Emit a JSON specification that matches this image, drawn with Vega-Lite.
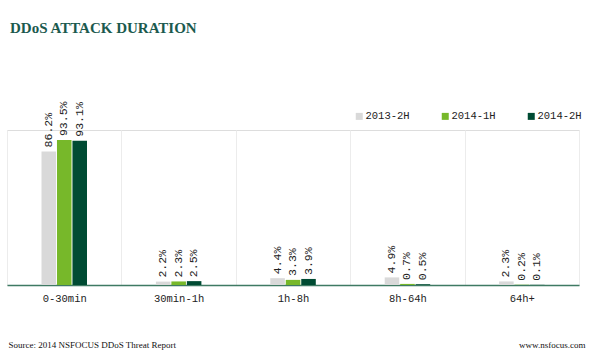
{
  "$schema": "https://vega.github.io/schema/vega-lite/v6.json",
  "autosize": {"type": "none"},
  "padding": {"left": 7, "top": 130, "right": 21, "bottom": 69},
  "width": 572,
  "height": 155,
  "background": "white",
  "title": {
    "text": "DDoS ATTACK DURATION",
    "anchor": "start",
    "frame": "group",
    "offset": 66,
    "dx": 3,
    "font": "Liberation Serif",
    "fontSize": 15,
    "fontWeight": "bold",
    "color": "#1b5a4e"
  },
  "data": {
    "values": [
      {"cat": "0-30min", "period": "2013-2H", "value": 0.862},
      {"cat": "0-30min", "period": "2014-1H", "value": 0.935},
      {"cat": "0-30min", "period": "2014-2H", "value": 0.931},
      {"cat": "30min-1h", "period": "2013-2H", "value": 0.022},
      {"cat": "30min-1h", "period": "2014-1H", "value": 0.023},
      {"cat": "30min-1h", "period": "2014-2H", "value": 0.025},
      {"cat": "1h-8h", "period": "2013-2H", "value": 0.044},
      {"cat": "1h-8h", "period": "2014-1H", "value": 0.033},
      {"cat": "1h-8h", "period": "2014-2H", "value": 0.039},
      {"cat": "8h-64h", "period": "2013-2H", "value": 0.049},
      {"cat": "8h-64h", "period": "2014-1H", "value": 0.007},
      {"cat": "8h-64h", "period": "2014-2H", "value": 0.005},
      {"cat": "64h+", "period": "2013-2H", "value": 0.023},
      {"cat": "64h+", "period": "2014-1H", "value": 0.002},
      {"cat": "64h+", "period": "2014-2H", "value": 0.001}
    ]
  },
  "encoding": {
    "x": {
      "field": "cat",
      "type": "nominal",
      "sort": ["0-30min", "30min-1h", "1h-8h", "8h-64h", "64h+"],
      "scale": {"paddingInner": 0, "paddingOuter": 0},
      "axis": {
        "labelAngle": 0,
        "grid": true,
        "tickBand": "extent",
        "gridColor": "#ececec",
        "gridWidth": 1,
        "ticks": false,
        "domainColor": "#3f7a63",
        "domainWidth": 1.5,
        "labelFont": "Liberation Mono",
        "labelFontSize": 10.5,
        "labelColor": "#222222",
        "labelPadding": 8,
        "title": "Source: 2014 NSFOCUS DDoS Threat Report",
        "titleAnchor": "start",
        "titleAlign": "left",
        "titleBaseline": "middle",
        "titleX": 1,
        "titleY": 59,
        "titleFont": "Liberation Serif",
        "titleFontSize": 9,
        "titleFontWeight": "normal",
        "titleColor": "#111111"
      }
    },
    "xOffset": {
      "field": "period",
      "type": "nominal",
      "scale": {"range": [34.5, 80], "paddingOuter": 0, "paddingInner": 0.06}
    },
    "y": {
      "field": "value",
      "type": "quantitative",
      "scale": {"domain": [0, 1]},
      "axis": {
        "orient": "right",
        "labels": false,
        "ticks": false,
        "domain": false,
        "grid": false,
        "title": "www.nsfocus.com",
        "titleAngle": 0,
        "titleAlign": "right",
        "titleBaseline": "middle",
        "titleX": 6,
        "titleY": 214,
        "titleFont": "Liberation Serif",
        "titleFontSize": 9,
        "titleFontWeight": "normal",
        "titleColor": "#111111"
      }
    }
  },
  "layer": [
    {
      "mark": {"type": "bar"},
      "encoding": {
        "color": {
          "field": "period",
          "type": "nominal",
          "scale": {"domain": ["2013-2H", "2014-1H", "2014-2H"], "range": ["#d9d9d9", "#77b82a", "#004b33"]},
          "legend": {
            "title": null,
            "orient": "none",
            "legendX": 347,
            "legendY": -19,
            "direction": "horizontal",
            "columns": 3,
            "columnPadding": 30,
            "symbolType": "square",
            "symbolSize": 49,
            "symbolStrokeWidth": 0,
            "labelOffset": 1,
            "labelFont": "Liberation Mono",
            "labelFontSize": 10.5,
            "labelColor": "#222222"
          }
        }
      }
    },
    {
      "mark": {"type": "text", "angle": -90, "align": "left", "baseline": "middle", "dx": 4, "font": "Liberation Mono", "fontSize": 11.5, "color": "#222222"},
      "encoding": {
        "text": {"field": "value", "type": "quantitative", "format": ".1%"},
        "detail": {"field": "period"}
      }
    }
  ]
}
